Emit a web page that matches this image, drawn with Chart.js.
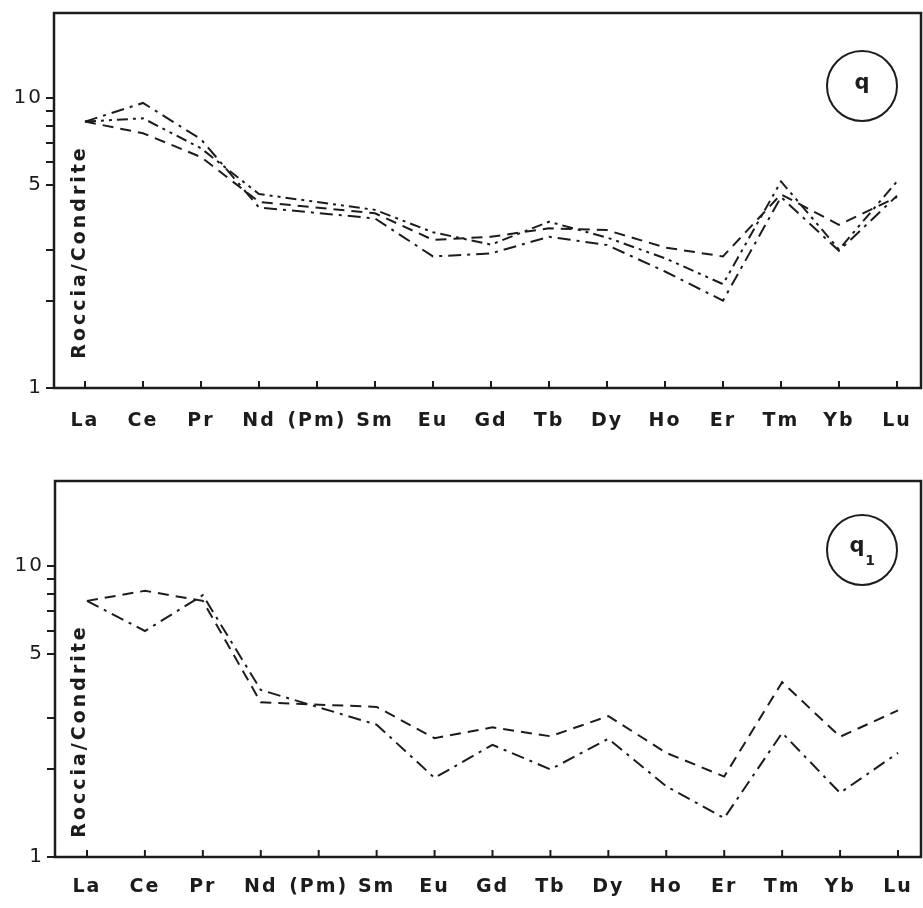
<!DOCTYPE html>
<html>
<head>
<meta charset="utf-8">
<script src="https://cdn.jsdelivr.net/npm/chart.js@4.4.0/dist/chart.umd.min.js"></script>
<style>
  html, body { margin: 0; padding: 0; background: #fff; }
  .panel { position: absolute; left: 0; }
</style>
</head>
<body>
<canvas id="chartQ" class="panel" width="923" height="450" style="top:0"></canvas>
<canvas id="chartQ1" class="panel" width="923" height="458" style="top:450px"></canvas>
<script>
// terre rare (Pm senza dato)
const elements = ['La', 'Ce', 'Pr', 'Nd', '(Pm)', 'Sm', 'Eu', 'Gd', 'Tb', 'Dy', 'Ho', 'Er', 'Tm', 'Yb', 'Lu'];
const yTickValues = [1, 2, 3, 5, 6, 7, 8, 9, 10];
const yLabelValues = [1, 5, 10];

// pannello q
const qDashDot    = [8.28, 9.6, 7.2, 4.19, null, 3.84, 2.84, 2.91, 3.32, 3.11, 2.52, 2.0, 4.55, 2.97, 4.6];
const qDashDotDot = [8.28, 8.5, 6.7, 4.66, null, 4.11, 3.44, 3.12, 3.74, 3.3, 2.8, 2.28, 5.15, 3.0, 5.15];
const qDashed     = [8.28, 7.55, 6.25, 4.38, null, 4.0, 3.24, 3.32, 3.55, 3.5, 3.05, 2.84, 4.65, 3.65, 4.55];

// pannello q1
const q1Dashed  = [7.59, 8.22, 7.59, 3.40, null, 3.28, 2.56, 2.79, 2.60, 3.05, 2.28, 1.89, 3.99, 2.59, 3.19];
const q1DashDot = [7.59, 5.98, 7.94, 3.75, null, 2.85, 1.87, 2.43, 2.0, 2.55, 1.75, 1.36, 2.67, 1.66, 2.28];

const ink = '#1c1c1c';
const fontFamily = '"DejaVu Sans", sans-serif';

const panelPlugin = {
    id: 'panel',
    beforeDraw(chart) {
        const ctx = chart.ctx;
        ctx.save();
        ctx.fillStyle = '#fff';
        ctx.fillRect(0, 0, chart.width, chart.height);
        ctx.restore();
        ctx.letterSpacing = '2px';
    },
    afterDraw(chart, args, opts) {
        const ctx = chart.ctx;
        const a = chart.chartArea;
        const x = chart.scales.x;
        ctx.save();
        ctx.strokeStyle = ink;
        ctx.lineWidth = 2.5;
        ctx.strokeRect(a.left, a.top, a.right - a.left, a.bottom - a.top);

        // tacche verso l'interno sull'asse x
        ctx.lineWidth = 2;
        elements.forEach((el, i) => {
            const px = x.getPixelForValue(i);
            ctx.beginPath();
            ctx.moveTo(px, a.bottom);
            ctx.lineTo(px, a.bottom - 7);
            ctx.stroke();
        });

        // titolo asse y dentro il grafico
        ctx.fillStyle = ink;
        ctx.font = 'bold 19px ' + fontFamily;
        ctx.letterSpacing = '3px';
        ctx.save();
        ctx.translate(opts.titleX, opts.titleY);
        ctx.rotate(-Math.PI / 2);
        ctx.textAlign = 'center';
        ctx.textBaseline = 'middle';
        ctx.fillText('Roccia/Condrite', 0, 0);
        ctx.restore();

        // etichetta nel cerchio
        ctx.lineWidth = 2;
        ctx.beginPath();
        ctx.arc(opts.circleX, opts.circleY, 35, 0, Math.PI * 2);
        ctx.stroke();
        ctx.letterSpacing = '0px';
        ctx.textAlign = 'center';
        ctx.textBaseline = 'middle';
        ctx.font = 'bold 21px ' + fontFamily;
        if (opts.sub) {
            ctx.fillText('q', opts.circleX - 5, opts.circleY - 3);
            ctx.font = 'bold 14px ' + fontFamily;
            ctx.fillText(opts.sub, opts.circleX + 8, opts.circleY + 11);
        } else {
            ctx.fillText('q', opts.circleX, opts.circleY - 2);
        }
        ctx.restore();
    }
};

function toPoints(values) {
    return values.map((v, i) => ({ x: i, y: v }));
}

function lineSet(values, dash) {
    return {
        data: toPoints(values),
        borderColor: ink,
        borderWidth: 2,
        borderDash: dash,
        pointRadius: 0,
        spanGaps: true,
        tension: 0
    };
}

function makePanel(id, datasets, lay) {
    const ctx = document.getElementById(id);
    return new Chart(ctx, {
        type: 'line',
        data: { datasets: datasets },
        options: {
            responsive: false,
            devicePixelRatio: 1,
            animation: false,
            layout: { padding: { top: lay.top, right: 2, left: 0, bottom: 0 } },
            plugins: {
                legend: { display: false },
                tooltip: { enabled: false },
                panel: lay
            },
            scales: {
                x: {
                    type: 'linear',
                    min: lay.xMin,
                    max: lay.xMax,
                    grid: { display: false },
                    border: { display: false },
                    afterBuildTicks: (scale) => {
                        scale.ticks = elements.map((el, i) => ({ value: i }));
                    },
                    afterFit: (scale) => {
                        scale.height = lay.xHeight;
                        scale.paddingLeft = 0;
                        scale.paddingRight = 0;
                    },
                    ticks: {
                        autoSkip: false,
                        maxRotation: 0,
                        padding: lay.labelPad,
                        color: ink,
                        font: { family: fontFamily, size: 19, weight: 'bold' },
                        callback: (v) => elements[v]
                    }
                },
                y: {
                    type: 'logarithmic',
                    min: 1,
                    max: 19.6,
                    border: { display: false },
                    grid: {
                        drawOnChartArea: false,
                        drawTicks: true,
                        tickLength: 8,
                        color: ink,
                        lineWidth: 2
                    },
                    afterBuildTicks: (scale) => {
                        scale.ticks = yTickValues.map(v => ({ value: v }));
                    },
                    afterFit: (scale) => {
                        scale.width = lay.yWidth;
                        scale.paddingTop = 0;
                        scale.paddingBottom = 0;
                    },
                    ticks: {
                        padding: 3,
                        color: ink,
                        font: { family: fontFamily, size: 20 },
                        callback: (v) => yLabelValues.includes(v) ? String(v) : ''
                    }
                }
            }
        },
        plugins: [panelPlugin]
    });
}

makePanel('chartQ', [
    lineSet(qDashDot, [13, 6, 3, 6]),
    lineSet(qDashDotDot, [11, 5, 3, 5, 3, 5]),
    lineSet(qDashed, [11, 7])
], {
    top: 13, xHeight: 62, yWidth: 54, labelPad: 14,
    xMin: -0.534, xMax: 14.414,
    titleX: 80, titleY: 252, circleX: 862, circleY: 86
});

makePanel('chartQ1', [
    lineSet(q1Dashed, [11, 7]),
    lineSet(q1DashDot, [13, 6, 3, 6])
], {
    top: 31, xHeight: 51, yWidth: 55, labelPad: 11,
    xMin: -0.552, xMax: 14.397,
    titleX: 80, titleY: 281, circleX: 862, circleY: 100, sub: '1'
});
</script>
</body>
</html>
